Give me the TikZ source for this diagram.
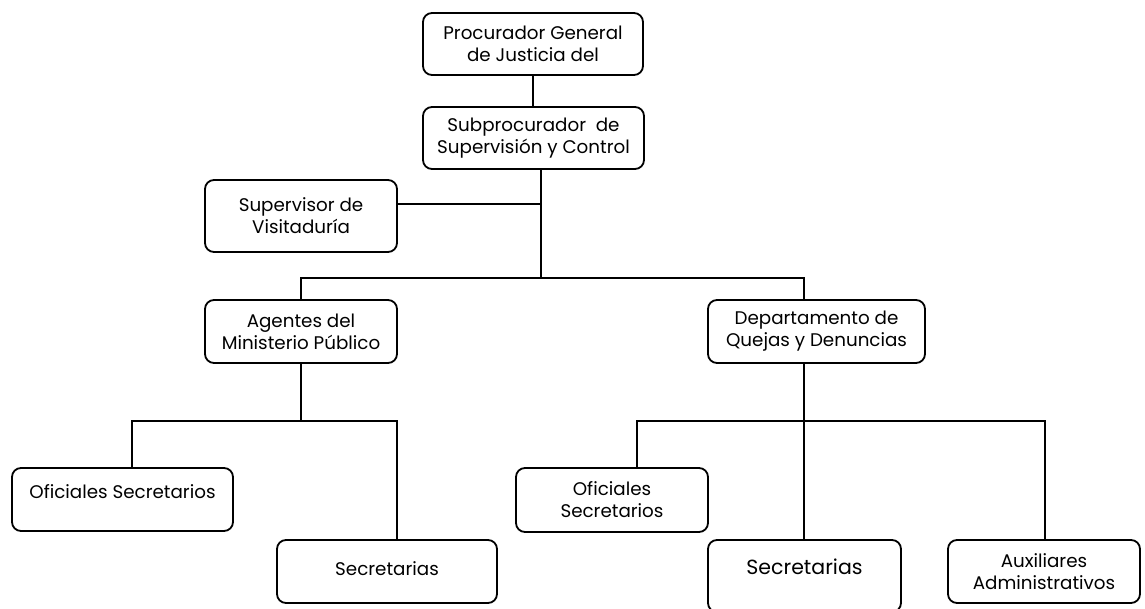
\documentclass[tikz,border=0pt]{standalone}
\usepackage{fontspec}
\setmainfont{Poppins}
\begin{document}
\begin{tikzpicture}[x=1pt,y=-1pt,
  unit/.style={draw, line width=1.8pt, rounded corners=9pt, align=center,
    inner sep=0pt, font=\fontsize{18.3}{22}\selectfont, text=black},
  link/.style={line width=1.8pt}]
\useasboundingbox (0,0) rectangle (1145,608);
\clip (0,0) rectangle (1145,608);

% boxes
\node[unit, minimum width=220pt, minimum height=62pt] (pg) at (533,44)
  {Procurador General\\de Justicia del};
\node[unit, minimum width=221pt, minimum height=62pt] (sub) at (533.5,138)
  {Subprocurador\ \ de\\Supervisión y Control};
\node[unit, minimum width=192pt, minimum height=72pt] (sup) at (301,216)
  {Supervisor de\\Visitaduría};
\node[unit, minimum width=192pt, minimum height=63pt] (age) at (301,331.5)
  {Agentes del\\Ministerio Público};
\node[unit, minimum width=217pt, minimum height=63pt] (dep) at (816.5,331.5)
  {Departamento de\\Quejas y Denuncias};
\node[unit, minimum width=221pt, minimum height=63pt] (of1) at (122.5,499.5)
  {\raisebox{8pt}[\height][\depth]{Oficiales Secretarios}};
\node[unit, minimum width=220pt, minimum height=63pt] (se1) at (387,571.5)
  {\raisebox{3pt}[\height][\depth]{Secretarias}};
\node[unit, minimum width=192pt, minimum height=64pt] (of2) at (612,500)
  {Oficiales\\Secretarios};
\node[unit, minimum width=193pt, minimum height=72pt,
  font=\fontsize{20.5}{24}\selectfont] (se2) at (804.5,576)
  {\raisebox{9pt}[\height][\depth]{Secretarias}};
\node[unit, minimum width=192pt, minimum height=63pt] (aux) at (1044,571.5)
  {Auxiliares\\Administrativos};

% junction points of the connectors
\coordinate (j1) at (541,278);
\coordinate (s1) at (541,204);
\coordinate (j2) at (804,278);
\coordinate (j3) at (301,421);
\coordinate (l1) at (132,421);
\coordinate (l2) at (397,421);
\coordinate (j4) at (804,421);
\coordinate (r1) at (637,421);
\coordinate (r3) at (1045,421);

% connectors
\draw[link] (pg.south) -- (pg.south |- sub.north);
\draw[link] (sub.south -| j1) -- (j1);
\draw[link] (sup.east |- s1) -- (s1);
\draw[link] (age.north) |- (j2) -- (j2 |- dep.north);
\draw[link] (age.south) -- (j3);
\draw[link] (l1 |- of1.north) -- (l1) -- (l2) -- (l2 |- se1.north);
\draw[link] (dep.south -| j4) -- (j4);
\draw[link] (r1 |- of2.north) -- (r1) -- (r3) -- (r3 |- aux.north);
\draw[link] (j4) -- (j4 |- se2.north);
\end{tikzpicture}
\end{document}
